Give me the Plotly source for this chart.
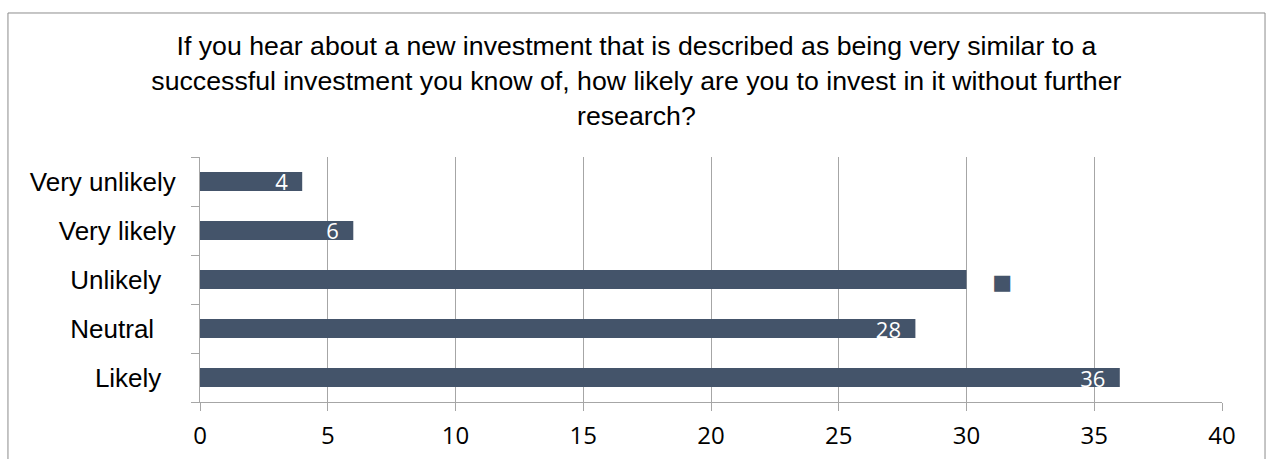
import plotly.graph_objects as go

# Survey responses (top to bottom as displayed)
categories = ["Very unlikely", "Very likely", "Unlikely", "Neutral", "Likely"]
counts = [4, 6, 30, 28, 36]
tick_labels = ["Very unlikely", "Very likely", "Unlikely\u00a0\u00a0", "Neutral\u00a0\u00a0\u00a0", "Likely\u00a0\u00a0"]
x_ticks = [0, 5, 10, 15, 20, 25, 30, 35, 40]

title_text = ("If you hear about a new investment that is described as being very similar to a<br>"
              "successful investment you know of, how likely are you to invest in it without further<br>"
              "research?")

BAR = "#44546A"
GRID = "#A6A6A6"
NB = "\u00a0"

# Plot categories bottom-up so the first listed sits at the top
cats_plot = categories[::-1]
vals_plot = counts[::-1]
ticks_plot = tick_labels[::-1]

labels = []
positions = []
for c, v in zip(cats_plot, vals_plot):
    if c == "Unlikely":
        # label shown with its legend key, value text in white
        labels.append(NB * 4 + "<span style='color:%s;font-family:DejaVu Sans;font-size:21px'>■</span>%s%d"
                      % (BAR, NB * 2, v))
        positions.append("outside")
    else:
        labels.append(str(v) + NB * 2)
        positions.append("inside")

fig = go.Figure(go.Bar(
    x=vals_plot,
    y=cats_plot,
    orientation="h",
    marker=dict(color=BAR, line=dict(width=0)),
    text=labels,
    textposition=positions,
    insidetextanchor="end",
    textangle=0,
    constraintext="none",
    textfont=dict(color="white", size=22, family="Open Sans, Liberation Sans, sans-serif"),
    cliponaxis=False,
))

fig.update_layout(
    width=1269,
    height=459,
    margin=dict(l=200, r=47, t=157, b=57),
    paper_bgcolor="white",
    plot_bgcolor="white",
    bargap=0.61,
    showlegend=False,
    title=dict(
        text=title_text,
        x=0.5015,
        xanchor="center",
        y=0.88,
        yanchor="top",
        font=dict(family="Liberation Sans, Arial, sans-serif", size=26.7, color="black"),
    ),
    font=dict(family="Liberation Sans, Arial, sans-serif", size=24, color="black"),
)

fig.update_xaxes(
    range=[0, 40],
    tickvals=x_ticks,
    showgrid=True,
    gridcolor=GRID,
    gridwidth=1,
    zeroline=False,
    showline=True,
    linecolor=GRID,
    linewidth=1,
    ticks="outside",
    ticklen=8,
    tickcolor=GRID,
    tickfont=dict(size=24, family="Open Sans, Liberation Sans, sans-serif"),
    ticklabelstandoff=4,
    automargin=False,
    fixedrange=True,
)

fig.update_yaxes(
    categoryorder="array",
    categoryarray=cats_plot,
    tickvals=cats_plot,
    ticktext=ticks_plot,
    showgrid=False,
    zeroline=False,
    showline=True,
    linecolor=GRID,
    linewidth=1,
    ticks="outside",
    tickson="boundaries",
    ticklen=8,
    tickcolor=GRID,
    tickfont=dict(size=26),
    ticklabelstandoff=18,
    automargin=False,
    fixedrange=True,
)

# Chart-area border
fig.add_shape(
    type="rect", xref="paper", yref="paper",
    x0=-0.1879, x1=1.0421, y0=-0.5, y1=1.5878,
    line=dict(color="#8C8C8C", width=1),
    fillcolor="rgba(0,0,0,0)", layer="below",
)

fig.write_html("out.html")
